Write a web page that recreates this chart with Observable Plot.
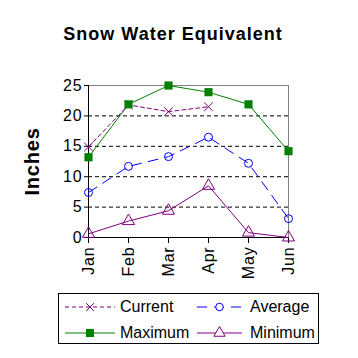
<!DOCTYPE html>
<html><head><meta charset="utf-8">
<script src="https://cdn.jsdelivr.net/npm/d3@7"></script>
<script src="https://cdn.jsdelivr.net/npm/@observablehq/plot@0.6"></script>
<style>
body{margin:0;background:#fff;font-family:"Liberation Sans",Arial,sans-serif;}
#wrap{position:relative;width:358px;height:358px;overflow:hidden;}
#title{position:absolute;left:0;top:24px;width:346px;text-align:center;font-weight:bold;font-size:18px;letter-spacing:1px;}
#chart{position:absolute;left:0;top:60px;}
#legend{position:absolute;left:58px;top:293px;width:259px;height:49px;border:1px solid #000;font-size:16px;}
.item{position:absolute;display:flex;align-items:center;}
</style></head><body>
<div id="wrap">
<div id="title">Snow Water Equivalent</div>
<div id="chart"></div>
<div id="legend"></div>
</div>
<script>
const months = ["Jan","Feb","Mar","Apr","May","Jun"];
const currentVals = [14.9, 21.8, 20.7, 21.5];
const averageVals = [7.4, 11.7, 13.3, 16.5, 12.2, 3.1];
const maximumVals = [13.2, 21.9, 25.0, 23.9, 21.9, 14.2];
const minimumVals = [0.6, 2.7, 4.4, 8.5, 0.8, 0.0];
const yTicks = [0, 5, 10, 15, 20, 25];
const gridVals = [5, 10, 15, 20];

const rows = (vals) => vals.map((v, i) => ({month: months[i], v}));
const cur = rows(currentVals), avg = rows(averageVals), mx = rows(maximumVals), mn = rows(minimumVals);

const purple = "#800080", blue = "#0000ff", green = "#008000";

const chart = Plot.plot({
  width: 358, height: 230,
  marginLeft: 88, marginRight: 70, marginTop: 25, marginBottom: 53,
  style: {fontFamily: "'Liberation Sans', Arial, sans-serif", fontSize: "16px", background: "none", color: "#000", letterSpacing: "0.8px"},
  x: {type: "point", domain: months, padding: 0, label: null},
  y: {domain: [0, 25], label: null},
  marks: [
    Plot.ruleY(gridVals, {stroke: "#000", strokeDasharray: "4,3", strokeWidth: 1}),
    Plot.ruleY([25], {stroke: "#808080"}),
    Plot.ruleX(["Jun"], {stroke: "#808080"}),
    Plot.axisY({ticks: yTicks, tickSize: 4, tickPadding: 2, fontSize: 16, stroke: "#000", label: null}),
    Plot.axisX({tickSize: 6, tickPadding: 3, tickRotate: -90, fontSize: 16, stroke: "#000", label: null}),
    Plot.ruleX([0], {x: () => "Jan", stroke: "#000"}),
    Plot.ruleY([0], {stroke: "#000"}),
    Plot.line(mn, {x: "month", y: "v", stroke: purple, strokeWidth: 1}),
    Plot.line(mx, {x: "month", y: "v", stroke: green, strokeWidth: 1}),
    Plot.line(avg, {x: "month", y: "v", stroke: blue, strokeWidth: 1, strokeDasharray: "10,7"}),
    Plot.line(cur, {x: "month", y: "v", stroke: purple, strokeWidth: 1, strokeDasharray: "4,3"}),
    Plot.dot(mn, {x: "month", y: "v", symbol: "triangle", r: 4.5, stroke: purple, fill: "none", strokeWidth: 1}),
    Plot.dot(avg, {x: "month", y: "v", symbol: "circle", r: 4, stroke: blue, fill: "none", strokeWidth: 1}),
    Plot.dot(cur, {x: "month", y: "v", symbol: "times", r: 4, stroke: purple, strokeWidth: 1}),
    Plot.dot(mx, {x: "month", y: "v", symbol: "square", r: 4.6, fill: green, stroke: "none"}),
    Plot.text(["Inches"], {frameAnchor: "left", textAnchor: "middle", dx: -56, rotate: -90, fontSize: 20, fontWeight: "bold", text: d => d})
  ]
});
document.getElementById("chart").appendChild(chart);

// legend
const legendItems = [
  {label: "Current", color: purple, dash: "4,3", symbol: "times", left: 6, top: 13, w: 50, gap: 5},
  {label: "Average", color: blue, dash: "10,7", symbol: "circle", left: 138, top: 13, w: 45, gap: 8},
  {label: "Maximum", color: green, dash: null, symbol: "square", left: 6, top: 39, w: 50, gap: 5},
  {label: "Minimum", color: purple, dash: null, symbol: "triangle", left: 138, top: 39, w: 45, gap: 8}
];
const leg = document.getElementById("legend");
for (const it of legendItems) {
  const div = document.createElement("div");
  div.className = "item";
  div.style.left = it.left + "px";
  div.style.top = (it.top - 9) + "px";
  const ns = "http://www.w3.org/2000/svg";
  const svg = document.createElementNS(ns, "svg");
  svg.setAttribute("width", it.w); svg.setAttribute("height", 18);
  svg.style.marginRight = it.gap + "px";
  const line = document.createElementNS(ns, "line");
  line.setAttribute("x1", 0); line.setAttribute("x2", it.w); line.setAttribute("y1", 9); line.setAttribute("y2", 9);
  line.setAttribute("stroke", it.color);
  if (it.dash) line.setAttribute("stroke-dasharray", it.dash);
  svg.appendChild(line);
  const path = document.createElementNS(ns, "path");
  const sym = {times: d3.symbolTimes, circle: d3.symbolCircle, square: d3.symbolSquare, triangle: d3.symbolTriangle}[it.symbol];
  const size = {times: 40, circle: 45, square: 64, triangle: 55}[it.symbol];
  path.setAttribute("d", d3.symbol(sym, size)());
  path.setAttribute("transform", `translate(${it.w/2},9)`);
  if (it.symbol === "square") { path.setAttribute("fill", it.color); }
  else { path.setAttribute("fill", it.symbol === "times" ? "none" : "#fff"); path.setAttribute("stroke", it.color); }
  svg.appendChild(path);
  div.appendChild(svg);
  const span = document.createElement("span");
  span.textContent = it.label;
  div.appendChild(span);
  leg.appendChild(div);
}
</script>
</body></html>
